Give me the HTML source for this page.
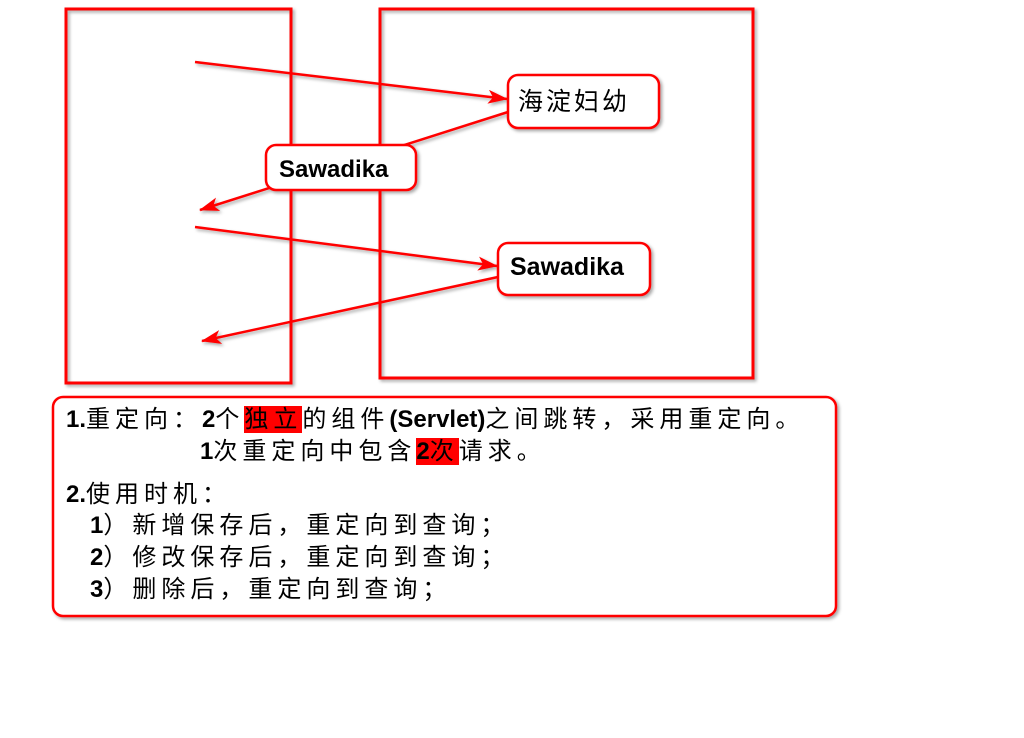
<!DOCTYPE html>
<html><head><meta charset="utf-8"><style>
body{margin:0;width:1024px;height:738px;background:#fff;overflow:hidden;position:relative;font-family:"Liberation Sans","Noto Sans CJK SC",sans-serif}
.t{position:absolute;font-size:24px;color:#000;white-space:nowrap;line-height:28px;letter-spacing:5px}
b{font-weight:bold;letter-spacing:0}
.h{background:#f00}
</style></head><body>
<svg width="1024" height="738" style="position:absolute;left:0;top:0">
<defs>
<marker id="a" markerWidth="20" markerHeight="14" refX="19" refY="7" orient="auto" markerUnits="userSpaceOnUse">
<path d="M0,0 L20,7 L0,14 L5,7 Z" fill="#f00"/></marker>
<filter id="s"><feDropShadow dx="2" dy="2" stdDeviation="1.5" flood-color="#000" flood-opacity="0.35"/></filter>
</defs>
<g filter="url(#s)">
<rect x="66" y="9" width="225" height="374" fill="none" stroke="#f00" stroke-width="3"/>
<rect x="380" y="9" width="373" height="369" fill="none" stroke="#f00" stroke-width="3"/>
<line x1="195" y1="62" x2="507" y2="99" stroke="#f00" stroke-width="2.5" marker-end="url(#a)"/>
<line x1="508" y1="112" x2="200" y2="210" stroke="#f00" stroke-width="2.5" marker-end="url(#a)"/>
<line x1="195" y1="227" x2="497" y2="266" stroke="#f00" stroke-width="2.5" marker-end="url(#a)"/>
<line x1="498" y1="277" x2="202" y2="341" stroke="#f00" stroke-width="2.5" marker-end="url(#a)"/>
<rect x="508" y="75" width="151" height="53" rx="10" fill="#fff" stroke="#f00" stroke-width="2.5"/>
<rect x="266" y="145" width="150" height="45" rx="10" fill="#fff" stroke="#f00" stroke-width="2.5"/>
<rect x="498" y="243" width="152" height="52" rx="10" fill="#fff" stroke="#f00" stroke-width="2.5"/>
<rect x="53" y="397" width="783" height="219" rx="10" fill="#fff" stroke="#f00" stroke-width="2.5"/>
</g>
<text x="518" y="110" font-size="25" font-family="Liberation Sans,Noto Sans CJK SC,sans-serif" letter-spacing="3">海淀妇幼</text>
<text x="279" y="177" font-size="24" font-weight="bold" font-family="Liberation Sans,sans-serif">Sawadika</text>
<text x="510" y="275" font-size="25" font-weight="bold" font-family="Liberation Sans,sans-serif">Sawadika</text>
</svg>
<div class="t" style="left:66px;top:406px"><b>1.</b>重定向：<b>2</b>个<span class="h">独立</span>的组件<b>(Servlet)</b>之间跳转，采用重定向。</div>
<div class="t" style="left:200px;top:438px"><b>1</b>次重定向中包含<span class="h"><b>2</b>次</span>请求。</div>
<div class="t" style="left:66px;top:481px"><b>2.</b>使用时机：</div>
<div class="t" style="left:90px;top:512px"><b>1</b>）新增保存后，重定向到查询；</div>
<div class="t" style="left:90px;top:544px"><b>2</b>）修改保存后，重定向到查询；</div>
<div class="t" style="left:90px;top:576px"><b>3</b>）删除后，重定向到查询；</div>
</body></html>
